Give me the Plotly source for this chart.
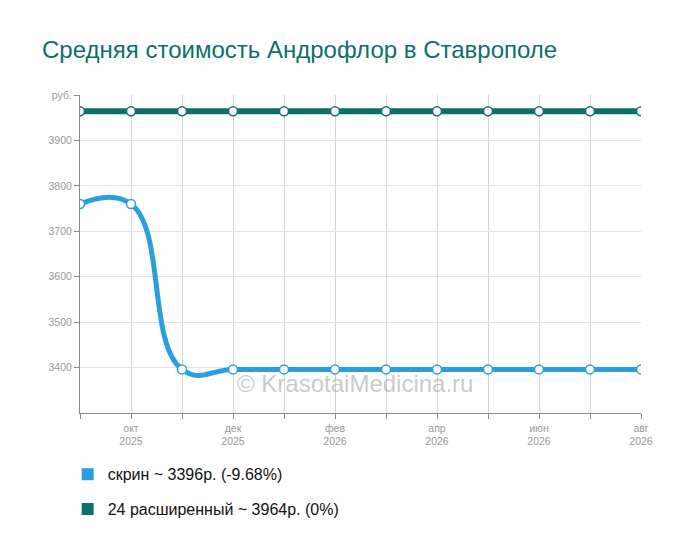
import plotly.graph_objects as go

months = ["сен 2025", "окт 2025", "ноя 2025", "дек 2025", "янв 2026", "фев 2026",
          "мар 2026", "апр 2026", "май 2026", "июн 2026", "июл 2026", "авг 2026"]
tick_labels = ["", "окт<br>2025", "", "дек<br>2025", "", "фев<br>2026",
               "", "апр<br>2026", "", "июн<br>2026", "", "авг<br>2026"]
skrin = [3760, 3760, 3396, 3396, 3396, 3396, 3396, 3396, 3396, 3396, 3396, 3396]
rasshir = [3964, 3964, 3964, 3964, 3964, 3964, 3964, 3964, 3964, 3964, 3964, 3964]
names = ["скрин ~ 3396р. (-9.68%)", "24 расширенный ~ 3964р. (0%)"]
y_ticks = [3400, 3500, 3600, 3700, 3800, 3900, 4000]
y_tick_labels = ["3400", "3500", "3600", "3700", "3800", "3900", "руб."]

blue = "#2a9fe0"
teal = "#0f7068"
x = list(range(len(months)))

fig = go.Figure()
for vals, col, w in [(rasshir, teal, 6), (skrin, blue, 5)]:
    fig.add_trace(go.Scatter(
        x=x, y=vals, mode="lines+markers",
        line=dict(color=col, width=w, shape="spline", smoothing=1.3),
        marker=dict(size=9, color="white", line=dict(color=col, width=1.5)),
        showlegend=False, hoverinfo="skip"))

for i, (nm, col) in enumerate(zip(names, [blue, teal])):
    fig.add_trace(go.Scatter(
        x=[None], y=[None], mode="markers", name=nm, legendgroup=f"g{i}",
        marker=dict(symbol="square", size=15, color=col)))

fig.add_annotation(text="© KrasotaiMedicina.ru", x=0.49, y=0.094, xref="paper", yref="paper",
                   xanchor="center", yanchor="middle",
                   showarrow=False, font=dict(size=24, color="rgba(150,150,150,0.5)",
                                              family="Liberation Sans, Arial"))

fig.update_layout(
    width=700, height=557,
    margin=dict(l=72, r=67, t=87, b=152),
    paper_bgcolor="white", plot_bgcolor="white",
    font=dict(family="Liberation Sans, Arial, sans-serif"),
    title=dict(text="Средняя стоимость Андрофлор в Ставрополе",
               font=dict(size=24, color="#0d7069"),
               x=0.0486, xanchor="left", y=0.9246, yanchor="middle"),
    xaxis=dict(range=[0, 11], tickmode="array", tickvals=x, ticktext=tick_labels,
               showgrid=True, gridcolor="#d6d6d6", gridwidth=1,
               showline=True, linecolor="#888", linewidth=1,
               ticks="outside", ticklen=5, tickcolor="#888",
               tickfont=dict(size=10.5, color="#999"), zeroline=False),
    yaxis=dict(range=[3300, 4000], tickmode="array", tickvals=y_ticks, ticktext=y_tick_labels,
               showgrid=True, gridcolor="#e2e2e2", gridwidth=1,
               showline=True, linecolor="#888", linewidth=1,
               ticks="outside", ticklen=5, tickcolor="#888",
               tickfont=dict(size=10.5, color="#999"), zeroline=False),
    legend=dict(x=-0.022, xanchor="left", y=-0.1394, yanchor="top",
                font=dict(size=16, color="#111"), tracegroupgap=11,
                itemsizing="constant"),
)

fig.write_html("out.html")
